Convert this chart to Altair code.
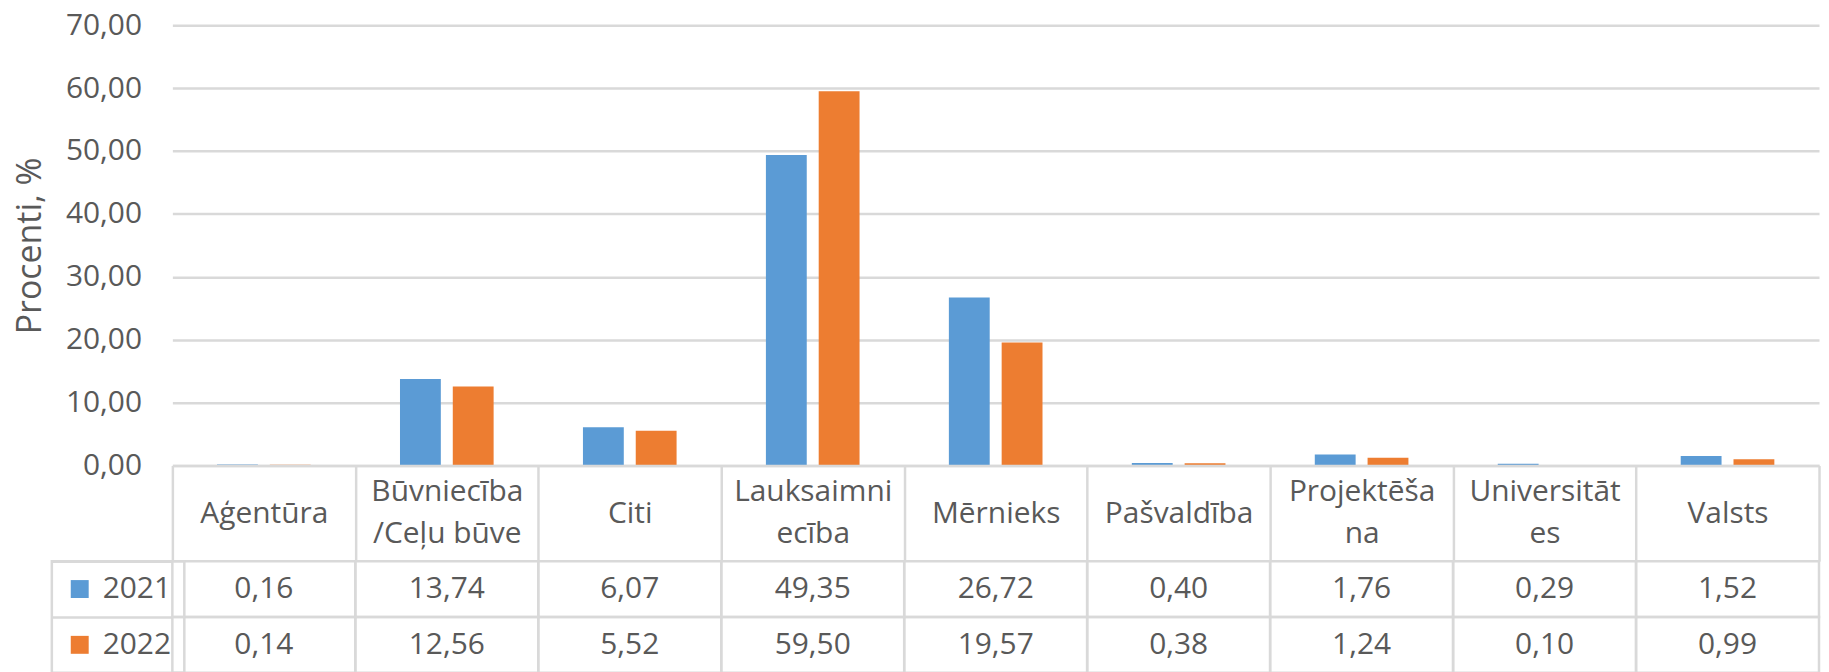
import json
import altair as alt
import pandas as pd

categories = ["Aģentūra", "Būvniecība/Ceļu būve", "Citi", "Lauksaimniecība", "Mērnieks",
              "Pašvaldība", "Projektēšana", "Universitātes", "Valsts"]
header_lines = [["Aģentūra"], ["Būvniecība", "/Ceļu būve"], ["Citi"], ["Lauksaimni", "ecība"],
                ["Mērnieks"], ["Pašvaldība"], ["Projektēša", "na"], ["Universitāt", "es"], ["Valsts"]]
years = ["2021", "2022"]
values_2021 = [0.16, 13.74, 6.07, 49.35, 26.72, 0.40, 1.76, 0.29, 1.52]
values_2022 = [0.14, 12.56, 5.52, 59.50, 19.57, 0.38, 1.24, 0.10, 0.99]
y_ticks = [0, 10, 20, 30, 40, 50, 60, 70]
colors = ["#5b9bd5", "#ed7d31"]

FONT = "Open Sans"
GRAY = "#595959"
LINE = "#d9d9d9"
LW = 2.5
FS = 30

df = pd.DataFrame({
    "Kategorija": categories * 2,
    "Gads": [years[0]] * len(categories) + [years[1]] * len(categories),
    "Procenti": values_2021 + values_2022,
})

label_expr = ""
for c, lines in zip(categories, header_lines):
    label_expr += f"datum.value == {json.dumps(c, ensure_ascii=False)} ? {json.dumps(lines, ensure_ascii=False)} : "
label_expr += "datum.label"

two_line = [c for c, lines in zip(categories, header_lines) if len(lines) > 1]
two_line_test = f"indexof({json.dumps(two_line, ensure_ascii=False)}, datum.value) >= 0"

num_expr = "replace(format(datum.value, '.2f'), '.', ',')"

W = 1653
x_scale = alt.Scale(domain=categories, paddingInner=0, paddingOuter=0)

bars = alt.Chart(df).mark_bar().encode(
    x=alt.X("Kategorija:N", sort=categories, scale=x_scale,
            axis=alt.Axis(title=None, labelExpr=label_expr, labelAngle=0, labelFont=FONT,
                          labelFontSize=FS, labelColor=GRAY, labelBaseline="middle",
                          labelAlign="center",
                          labelPadding={"condition": {"test": two_line_test, "value": -70},
                                        "value": -48},
                          labelLineHeight=42,
                          labelLimit=300, tickBand="extent", tickSize=96, tickColor=LINE,
                          tickWidth=LW, domainColor=LINE, domainWidth=LW, zindex=1)),
    xOffset=alt.XOffset("Gads:N", sort=years,
                        scale=alt.Scale(domain=years, paddingInner=0.2264, paddingOuter=0.846)),
    y=alt.Y("Procenti:Q", scale=alt.Scale(domain=[0, 70], nice=False),
            axis=alt.Axis(values=y_ticks, labelExpr=num_expr, title="Procenti, %",
                          labelFont=FONT, labelFontSize=FS, labelColor=GRAY, labelPadding=31,
                          ticks=False, domain=False, gridColor=LINE, gridWidth=LW,
                          titleFont=FONT, titleFontSize=34, titleFontWeight="normal",
                          titleColor=GRAY, titlePadding=18)),
    color=alt.Color("Gads:N", sort=years, scale=alt.Scale(domain=years, range=colors),
                    legend=alt.Legend(title=None, orient="none", legendX=-121, legendY=538,
                                      symbolType="square", symbolSize=324, symbolStrokeWidth=0,
                                      labelFont=FONT, labelFontSize=FS, labelColor=GRAY,
                                      labelOffset=8, padding=13, rowPadding=26,
                                      strokeColor=LINE, direction="vertical")),
).properties(width=W, height=442)

table = alt.Chart(df).transform_calculate(
    txt="replace(format(datum.Procenti, '.2f'), '.', ',')"
)
tx = alt.X("Kategorija:N", sort=categories, scale=x_scale, axis=None)
ty = alt.Y("Gads:N", sort=years, scale=alt.Scale(domain=years, paddingInner=0, paddingOuter=0),
           axis=alt.Axis(title=None, labels=False, domain=False, tickBand="extent",
                         tickSize=121, tickColor=LINE, tickWidth=LW))
cells = table.mark_rect(fill="white", fillOpacity=0, stroke=LINE, strokeWidth=LW).encode(x=tx, y=ty)
texts = table.mark_text(font=FONT, fontSize=FS, color=GRAY, baseline="middle").encode(
    x=tx, y=ty, text="txt:N")
bottom = alt.layer(cells, texts).properties(width=W, height=112)

chart = alt.vconcat(bars, bottom, spacing=96, bounds="flush").resolve_scale(
    x="independent", y="independent"
).properties(
    padding={"left": 5, "top": 0, "right": 0, "bottom": 0}
).configure_view(stroke="transparent").configure_legend(strokeWidth=LW)

chart.save("out.html", embed_options={"renderer": "svg", "actions": False})
